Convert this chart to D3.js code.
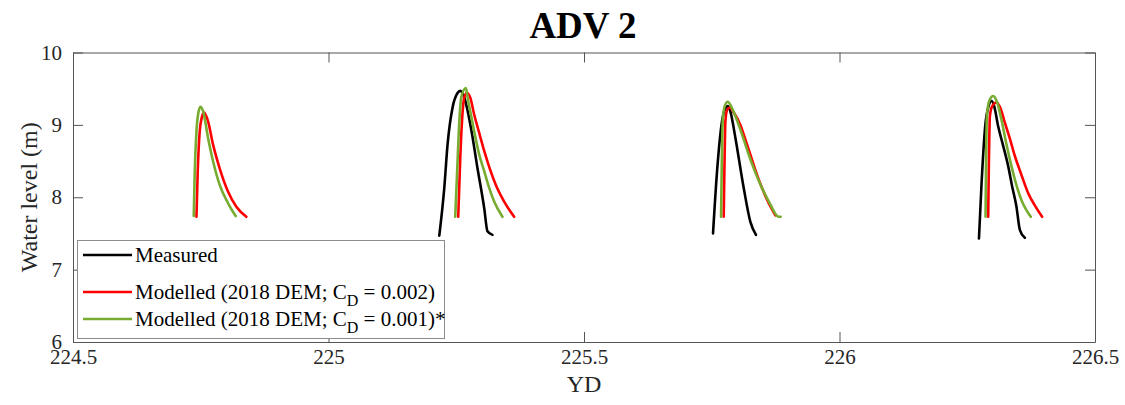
<!DOCTYPE html>
<html>
<head>
<meta charset="utf-8">
<script src="https://cdn.jsdelivr.net/npm/d3@7"></script>
<style>
  html, body { margin: 0; padding: 0; background: #fff; }
  svg { display: block; }
  svg text { font-family: 'Liberation Serif', 'Times New Roman', serif; }
</style>
</head>
<body>
<svg id="chart" width="1125" height="405"></svg>
<script>
// Water level at ADV 2 over four tidal inundations (YD = year day)
const xTicks = [224.5, 225, 225.5, 226, 226.5];
const yTicks = [6, 7, 8, 9, 10];

// Measured record, one segment per flood tide: [YD, level (m)]
const measured = [
  [[225.2168,7.47],[225.2266,8.13],[225.2330,8.73],[225.2428,9.24],[225.2525,9.44],[225.2578,9.47],[225.2656,9.38],[225.2787,8.96],[225.2916,8.40],[225.3047,7.85],[225.3111,7.53],[225.3209,7.48]],
  [[225.7525,7.50],[225.7604,8.36],[225.7701,9.05],[225.7754,9.21],[225.7818,9.26],[225.7870,9.17],[225.7963,8.82],[225.8125,8.13],[225.8256,7.66],[225.8365,7.48]],
  [[226.2729,7.43],[226.2780,8.19],[226.2858,9.03],[226.2910,9.24],[226.2975,9.33],[226.3027,9.26],[226.3105,8.98],[226.3203,8.71],[226.3301,8.43],[226.3379,8.15],[226.3463,7.87],[226.3529,7.55],[226.3627,7.44]]
];

// Model run, 2018 DEM, C_D = 0.002
const modelCd002 = [
  [[224.7416,7.73],[224.7441,8.36],[224.7480,8.91],[224.7520,9.10],[224.7564,9.17],[224.7643,9.05],[224.7740,8.73],[224.7870,8.40],[224.8033,8.08],[224.8197,7.87],[224.8393,7.73]],
  [[225.2539,7.73],[225.2578,8.54],[225.2617,9.10],[225.2656,9.38],[225.2709,9.44],[225.2773,9.38],[225.2852,9.14],[225.2949,8.89],[225.3047,8.64],[225.3154,8.40],[225.3275,8.17],[225.3438,7.94],[225.3633,7.73]],
  [[225.7734,7.73],[225.7748,8.40],[225.7768,9.06],[225.7803,9.21],[225.7852,9.24],[225.7930,9.17],[225.8060,9.00],[225.8158,8.80],[225.8256,8.59],[225.8360,8.36],[225.8482,8.13],[225.8613,7.92],[225.8744,7.75]],
  [[226.2910,7.73],[226.2922,8.40],[226.2943,9.12],[226.2988,9.26],[226.3072,9.31],[226.3145,9.24],[226.3236,9.03],[226.3334,8.81],[226.3432,8.57],[226.3555,8.32],[226.3691,8.06],[226.3828,7.88],[226.3965,7.73]]
];

// Model run, 2018 DEM, C_D = 0.001
const modelCd001 = [
  [[224.7363,7.74],[224.7383,8.36],[224.7416,8.91],[224.7447,9.14],[224.7494,9.25],[224.7545,9.19],[224.7643,8.82],[224.7740,8.50],[224.7870,8.17],[224.8033,7.92],[224.8184,7.74]],
  [[225.2480,7.73],[225.2520,8.40],[225.2559,9.03],[225.2598,9.38],[225.2690,9.51],[225.2721,9.38],[225.2787,9.14],[225.2852,8.91],[225.2949,8.59],[225.3047,8.36],[225.3145,8.13],[225.3242,7.94],[225.3404,7.73]],
  [[225.7682,7.73],[225.7695,8.40],[225.7715,9.06],[225.7754,9.26],[225.7813,9.32],[225.7891,9.24],[225.8027,9.00],[225.8125,8.80],[225.8223,8.59],[225.8360,8.33],[225.8482,8.13],[225.8633,7.92],[225.8809,7.73],[225.8848,7.73]],
  [[226.2858,7.73],[226.2867,8.40],[226.2885,9.12],[226.2930,9.33],[226.3008,9.40],[226.3086,9.31],[226.3170,9.07],[226.3262,8.75],[226.3365,8.43],[226.3457,8.18],[226.3561,7.96],[226.3652,7.83],[226.3744,7.73]]
];

const series = [
  { name: "Measured", data: measured, color: "#000000" },
  { name: "Modelled (2018 DEM; C", sub: "D", tail: " = 0.002)", data: modelCd002, color: "#ff0000" },
  { name: "Modelled (2018 DEM; C", sub: "D", tail: " = 0.001)*", data: modelCd001, color: "#77ac30" }
];

const plot = { left: 73, right: 1095, top: 52.5, bottom: 342 };
const font = "'Liberation Serif', 'Times New Roman', serif";
const ink = "#262626";

const svg = d3.select("#chart");

const x = d3.scaleLinear().domain([224.5, 226.5]).range([plot.left, plot.right]);
const y = d3.scaleLinear().domain([6, 10]).range([plot.bottom, plot.top]);

// Title
svg.append("text")
  .attr("x", 583)
  .attr("y", 38)
  .attr("text-anchor", "middle")
  .attr("font-family", font)
  .attr("font-weight", "bold")
  .attr("font-size", 37)
  .attr("fill", "#000")
  .text("ADV 2");

// Axes: ticks point inward, mirrored on the opposite sides (boxed axes)
const tickLen = 10;
const axisStroke = "#555";

const bottomAxis = svg.append("g")
  .attr("transform", `translate(0,${plot.bottom})`)
  .call(d3.axisBottom(x).tickValues(xTicks).tickSizeInner(-tickLen).tickSizeOuter(0).tickPadding(7).tickFormat(d3.format("")));
const topAxis = svg.append("g")
  .attr("transform", `translate(0,${plot.top})`)
  .call(d3.axisTop(x).tickValues(xTicks).tickSizeInner(-tickLen).tickSizeOuter(0).tickFormat(""));
const leftAxis = svg.append("g")
  .attr("transform", `translate(${plot.left},0)`)
  .call(d3.axisLeft(y).tickValues(yTicks).tickSizeInner(-tickLen).tickSizeOuter(0).tickPadding(11).tickFormat(d3.format("")));
const rightAxis = svg.append("g")
  .attr("transform", `translate(${plot.right},0)`)
  .call(d3.axisRight(y).tickValues(yTicks).tickSizeInner(-tickLen).tickSizeOuter(0).tickFormat(""));

[bottomAxis, topAxis, leftAxis, rightAxis].forEach(g => {
  g.attr("font-family", font).attr("font-size", 21);
  g.select(".domain").attr("stroke", axisStroke).attr("stroke-width", 1);
  g.selectAll(".tick line").attr("stroke", axisStroke).attr("stroke-width", 1);
  g.selectAll(".tick text")
    .style("font-family", font)
    .attr("font-size", 21)
    .attr("fill", ink);
});

// Axis labels
svg.append("text")
  .attr("x", (plot.left + plot.right) / 2)
  .attr("y", 392)
  .attr("text-anchor", "middle")
  .attr("font-family", font)
  .attr("font-size", 24)
  .attr("fill", ink)
  .text("YD");

svg.append("text")
  .attr("transform", `translate(37,${(plot.top + plot.bottom) / 2}) rotate(-90)`)
  .attr("text-anchor", "middle")
  .attr("font-family", font)
  .attr("font-size", 24)
  .attr("fill", ink)
  .text("Water level (m)");

// Water level curves, clipped to the axes box
svg.append("clipPath").attr("id", "plot-area")
  .append("rect")
  .attr("x", plot.left).attr("y", plot.top)
  .attr("width", plot.right - plot.left).attr("height", plot.bottom - plot.top);

const line = d3.line()
  .x(d => x(d[0]))
  .y(d => y(d[1]))
  .curve(d3.curveMonotoneX);

const lines = svg.append("g").attr("clip-path", "url(#plot-area)");
series.forEach(s => {
  lines.append("g")
    .selectAll("path")
    .data(s.data)
    .join("path")
    .attr("d", line)
    .attr("fill", "none")
    .attr("stroke", s.color)
    .attr("stroke-width", 2.6)
    .attr("stroke-linejoin", "round")
    .attr("stroke-linecap", "round");
});

// Legend (drawn over the curves, bottom-left)
const legend = svg.append("g");
legend.append("rect")
  .attr("x", 77.5).attr("y", 240.5)
  .attr("width", 367).attr("height", 98)
  .attr("fill", "#fff")
  .attr("stroke", "#8c8c8c")
  .attr("stroke-width", 1);

const rowY = [255, 292, 319];
series.forEach((s, i) => {
  legend.append("line")
    .attr("x1", 83).attr("x2", 132)
    .attr("y1", rowY[i]).attr("y2", rowY[i])
    .attr("stroke", s.color)
    .attr("stroke-width", 2.6);
  const t = legend.append("text")
    .attr("x", 135)
    .attr("y", rowY[i] + 7)
    .attr("font-family", font)
    .attr("font-size", 21)
    .attr("fill", "#000");
  t.append("tspan").text(s.name);
  if (s.sub) {
    t.append("tspan").attr("dy", 7).attr("font-size", 16).text(s.sub);
    t.append("tspan").attr("dy", -7).text(s.tail);
  }
});
</script>
</body>
</html>
